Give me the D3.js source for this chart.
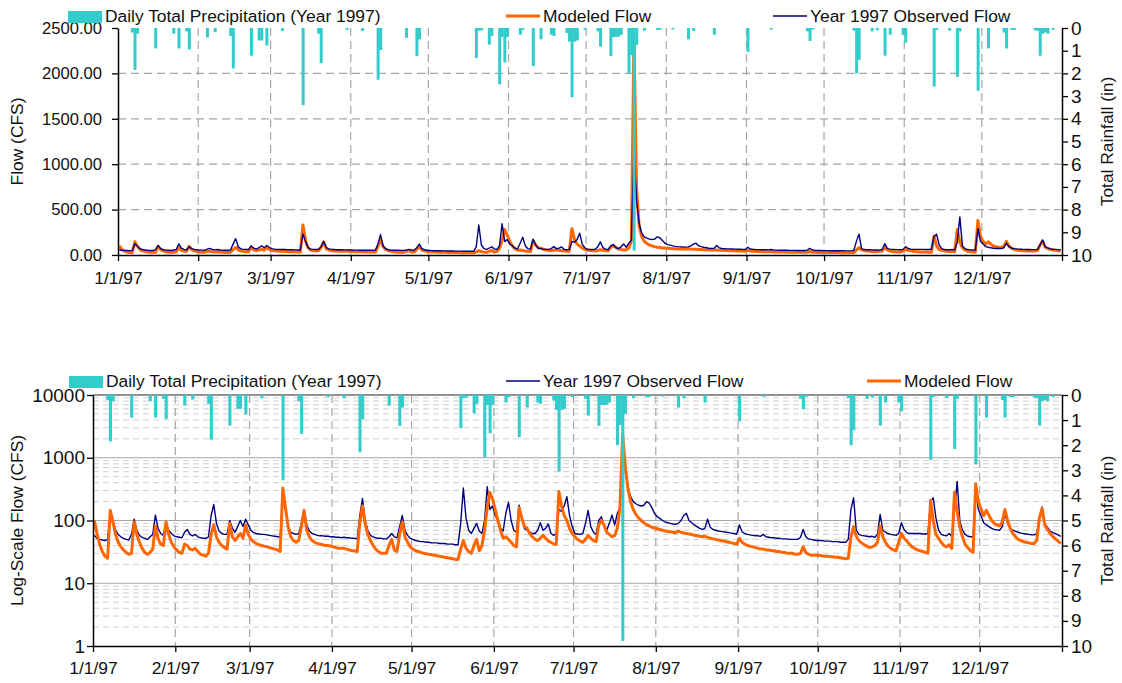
<!DOCTYPE html>
<html>
<head>
<meta charset="utf-8">
<script src="https://cdn.jsdelivr.net/npm/d3@7"></script>
<style>
  body { margin: 0; background: #fff; }
  svg { display: block; }
  text { font-family: "Liberation Sans", Arial, Helvetica, sans-serif; fill: #111; }
</style>
</head>
<body>
<svg id="chart" width="1122" height="683"></svg>
<script>
// ---- data -------------------------------------------------------------
const monthLabels = ["1/1/97","2/1/97","3/1/97","4/1/97","5/1/97","6/1/97",
                     "7/1/97","8/1/97","9/1/97","10/1/97","11/1/97","12/1/97"];
const linearFlowTicks = [0, 500, 1000, 1500, 2000, 2500];
const logFlowTicks = [1, 10, 100, 1000, 10000];
const rainTicks = [0,1,2,3,4,5,6,7,8,9,10];

// daily precipitation, inches (day of year index, 0 = Jan 1)
const rainDay =    [5,6,7,14,21,23,26,27,34,37,43,44,51,54,55,57,63,71,77,78,88,94,100,101,111,115,116,
                    138,139,140,143,144,147,148,149,150,155,156,160,163,167,168,173,174,175,176,177,180,
                    185,186,190,191,192,193,194,197,198,199,200,203,208,209,214,220,222,230,243,252,266,267,268,
                    284,285,286,291,293,296,298,303,304,315,316,321,324,325,332,336,342,343,345,346,
                    354,355,356,357,358,359,361];
const rainInches = [0.2,1.85,0.25,0.9,0.25,0.9,0.15,0.95,0.42,0.18,0.35,1.78,1.22,0.55,0.55,0.77,0.13,3.4,0.25,1.55,0.08,0.13,2.28,0.97,0.43,1.23,0.5,
                    1.32,0.12,0.1,0.73,0.35,2.48,0.4,1.52,0.4,0.3,0.08,1.68,0.5,0.3,0.35,0.22,0.6,3.05,0.6,0.55,0.08,
                    0.15,0.82,1.23,0.4,0.4,0.38,0.3,2.0,1.2,9.8,0.75,0.12,0.08,0.08,0.06,0.5,0.13,0.3,1.05,0.07,0.15,0.57,0.07,
                    0.12,2.0,1.4,0.15,0.1,1.22,0.3,0.3,0.65,2.58,0.08,0.12,2.15,0.15,2.76,0.9,0.2,0.9,0.08,0.08,
                    0.1,0.12,1.22,0.25,0.2,0.25,0.08];

// observed daily flow, CFS
const observedFlow = [
  58,52,50,49,48,50,125,100,70,60,55,52,50,49,60,105,70,58,54,52,50,55,60,122,75,62,58,90,70,62,57,          // Jan
  55,54,53,65,72,60,57,60,55,53,52,52,55,120,180,90,68,62,60,60,100,75,65,80,100,80,105,85,                  // Feb
  70,64,62,61,60,60,59,58,57,56,55,55,230,150,80,65,62,60,62,90,150,85,68,62,60,58,57,57,56,56,55,           // Mar
  55,54,54,53,54,53,53,52,52,51,120,225,100,70,58,55,53,52,52,51,51,55,62,55,53,80,120,70,58,52,             // Apr
  50,48,47,46,46,45,45,44,44,44,43,43,43,42,42,42,41,41,90,330,110,70,62,75,90,68,62,100,345,150,170,        // May
  120,100,75,68,130,195,100,70,65,175,110,75,70,65,62,62,70,92,70,75,88,62,58,62,150,140,170,240,120,80,     // Jun
  62,61,60,62,90,145,80,65,60,100,115,80,70,90,122,85,130,160,1180,600,350,240,200,185,175,170,175,200,190,160,130, // Jul
  115,108,100,95,92,90,88,87,90,100,120,130,100,92,85,80,75,72,75,105,78,72,70,68,67,66,65,64,63,62,61,      // Aug
  85,66,62,60,59,58,57,57,56,60,55,54,53,53,52,52,51,51,51,50,50,50,50,54,72,55,51,50,49,48,                 // Sep
  48,48,47,47,47,46,46,46,45,45,45,50,150,230,70,60,58,57,56,55,56,54,60,125,70,65,62,60,59,58,62,           // Oct
  92,72,64,62,62,62,62,62,61,61,62,200,230,110,70,60,58,57,62,56,140,420,100,70,60,56,55,55,290,150,         // Nov
  120,92,85,80,75,72,71,70,80,130,90,75,70,67,65,63,62,61,60,59,59,62,110,165,90,78,68,64,62,59,56           // Dec
];

// modeled daily flow, CFS
const modeledFlow = [
  100,62,42,32,27,25,145,95,60,45,38,34,31,29,30,95,60,45,36,31,29,31,35,82,52,42,40,95,60,45,38,            // Jan
  34,31,30,42,40,35,34,36,32,29,28,27,30,60,85,55,45,40,37,35,90,55,48,55,62,52,85,60,                       // Feb
  50,46,43,41,40,39,38,37,36,35,34,32,330,160,80,55,48,45,48,80,145,70,55,48,45,43,42,41,40,40,39,           // Mar
  38,37,36,36,36,35,34,33,33,32,90,170,90,60,48,40,35,32,30,30,30,40,50,34,32,60,95,55,45,38,                // Apr
  35,33,32,31,30,29.5,29,28.5,28,27.5,27,26.5,26,25.5,25,24.5,24,24,35,48,36,32,30,40,50,33,40,70,160,280,220, // May
  150,100,70,52,55,50,45,40,38,160,110,80,75,62,55,50,48,52,58,52,47,45,42,42,290,170,120,100,75,62,         // Jun
  55,50,47,45,50,58,52,48,46,85,100,85,65,60,55,58,75,160,2400,730,320,200,150,125,110,100,92,86,82,78,76,   // Jul
  74,72,70,68,67,66,65,64,68,65,63,62,61,60,58,57,56,55,56,54,52,51,50,49,48,47,46,45,44,43,42,              // Aug
  52,45,42,40,39,38,37,36,35,35,34,34,33,33,32,32,31,31,30,30,30,29,29,30,38,31,29,28,28,28,                 // Sep
  28,27.5,27,27,26.5,26.5,26,26,25.5,25,24.5,25,55,80,56,48,44,41,39,37,38,40,45,82,55,45,39,36,34,33,45,    // Oct
  62,52,47,42,38,36,34,33,32,31,30,210,100,60,52,45,40,38,41,36,280,140,80,55,42,37,33,31,380,200,           // Nov
  150,120,145,120,100,90,85,82,95,150,100,75,62,55,50,48,46,45,44,43,43,48,110,155,85,72,62,56,51,47,43      // Dec
];

// ---- drawing ----------------------------------------------------------
const svg = d3.select("#chart");
const C_RAIN = "#33cccc", C_MOD = "#ff6600", C_OBS = "#000080";
const yearStart = new Date(Date.UTC(1997, 0, 1));
const yearEnd = new Date(Date.UTC(1998, 0, 1));
const dayStart = d => d3.utcDay.offset(yearStart, d);
const dayMid = d => d3.utcHour.offset(dayStart(d), 12);
const monthStarts = d3.utcMonth.range(yearStart, d3.utcDay.offset(yearEnd, 1));

function drawPanel(cfg) {
  const g = svg.append("g");
  const x = d3.scaleUtc().domain([yearStart, yearEnd]).range([cfg.left, cfg.right]);
  const yRain = d3.scaleLinear().domain([0, 10]).range([cfg.top, cfg.bottom]);
  const y = cfg.log
    ? d3.scaleLog().domain([1, 10000]).range([cfg.bottom, cfg.top])
    : d3.scaleLinear().domain([0, 2500]).range([cfg.bottom, cfg.top]);

  // gridlines
  const grid = g.append("g");
  if (cfg.log) {
    const minor = [];
    for (let k = 0; k < 4; k++) for (let m = 2; m <= 9; m++) minor.push(m * Math.pow(10, k));
    grid.selectAll("line.minor").data(minor).join("line")
      .attr("x1", cfg.left).attr("x2", cfg.right)
      .attr("y1", d => y(d)).attr("y2", d => y(d))
      .attr("stroke", "#cfcfcf").attr("stroke-width", 1).attr("stroke-dasharray", "6,4");
    grid.selectAll("line.major").data([10, 100, 1000]).join("line")
      .attr("x1", cfg.left).attr("x2", cfg.right)
      .attr("y1", d => y(d)).attr("y2", d => y(d))
      .attr("stroke", "#a6a6a6").attr("stroke-width", 1.2);
    grid.append("line")
      .attr("x1", cfg.left).attr("x2", cfg.right)
      .attr("y1", y(10000)).attr("y2", y(10000))
      .attr("stroke", "#6e6e6e").attr("stroke-width", 1.5);
  } else {
    grid.selectAll("line.h").data([500, 1000, 1500, 2000]).join("line")
      .attr("x1", cfg.left).attr("x2", cfg.right)
      .attr("y1", d => y(d)).attr("y2", d => y(d))
      .attr("stroke", "#a6a6a6").attr("stroke-width", 1.2).attr("stroke-dasharray", "8,5");
  }
  grid.selectAll("line.v").data(monthStarts.slice(1, 12)).join("line")
    .attr("x1", d => x(d)).attr("x2", d => x(d))
    .attr("y1", cfg.top).attr("y2", cfg.bottom)
    .attr("stroke", "#a6a6a6").attr("stroke-width", 1.2).attr("stroke-dasharray", "8,5");

  // flow lines
  const line = d3.line().x((v, i) => x(dayMid(i))).y(v => y(v));
  const series = {
    mod: { data: modeledFlow, color: C_MOD, width: 3 },
    obs: { data: observedFlow, color: C_OBS, width: 1.4 }
  };
  cfg.order.forEach(key => {
    const s = series[key];
    g.append("path").datum(s.data)
      .attr("d", line).attr("fill", "none")
      .attr("stroke", s.color).attr("stroke-width", s.width)
      .attr("stroke-linejoin", "round");
  });

  // precipitation bars hanging from the top
  g.append("g").selectAll("rect").data(rainDay).join("rect")
    .attr("x", d => x(dayStart(d)))
    .attr("width", d => x(dayStart(d + 1)) - x(dayStart(d)) + 0.4)
    .attr("y", cfg.top)
    .attr("height", (d, i) => yRain(rainInches[i]) - cfg.top)
    .attr("fill", C_RAIN);

  // axes
  const axisStyle = size => sel => {
    sel.attr("font-family", null);
    sel.selectAll("path.domain").attr("stroke", "#000").attr("stroke-width", 1.5);
    sel.selectAll(".tick line").attr("stroke", "#000").attr("stroke-width", 1.3);
    sel.selectAll("text").attr("font-size", size).attr("fill", "#111");
  };
  const leftAxis = d3.axisLeft(y).tickValues(cfg.log ? logFlowTicks : linearFlowTicks)
    .tickSize(6).tickSizeOuter(0).tickPadding(cfg.leftPad)
    .tickFormat(cfg.log ? d3.format("d") : d3.format(".2f"));
  g.append("g").attr("transform", `translate(${cfg.left},0)`).call(leftAxis).call(axisStyle(cfg.leftFont));

  const rightAxis = d3.axisRight(yRain).tickValues(rainTicks)
    .tickSize(6).tickSizeOuter(0).tickPadding(3).tickFormat(d3.format("d"));
  g.append("g").attr("transform", `translate(${cfg.right},0)`).call(rightAxis).call(axisStyle(19));

  const bottomAxis = d3.axisBottom(x).tickValues(monthStarts)
    .tickSize(6).tickSizeOuter(0).tickPadding(cfg.xPad)
    .tickFormat((d, i) => i < 12 ? monthLabels[i] : "");
  g.append("g").attr("transform", `translate(0,${cfg.bottom})`).call(bottomAxis).call(axisStyle(17.4));

  // axis titles
  const midY = (cfg.top + cfg.bottom) / 2;
  g.append("text").attr("transform", `translate(${cfg.leftTitleX},${midY}) rotate(-90)`)
    .attr("text-anchor", "middle").attr("font-size", 17.4).text(cfg.leftTitle);
  g.append("text").attr("transform", `translate(${cfg.rightTitleX},${midY}) rotate(-90)`)
    .attr("text-anchor", "middle").attr("font-size", 17.4).text("Total Rainfall (in)");

  // legend
  const lg = g.append("g");
  cfg.legend.forEach(item => {
    if (item.type === "rect") {
      lg.append("rect").attr("x", item.x).attr("y", cfg.legendY - 5)
        .attr("width", 34).attr("height", 12).attr("fill", C_RAIN);
    } else {
      lg.append("line").attr("x1", item.x).attr("x2", item.x + 34)
        .attr("y1", cfg.legendY).attr("y2", cfg.legendY)
        .attr("stroke", item.color).attr("stroke-width", item.width);
    }
    lg.append("text").attr("x", item.x + 37).attr("y", cfg.legendY + 6)
      .attr("font-size", 17.4).text(item.label);
  });
}

drawPanel({
  left: 118, right: 1062, top: 28, bottom: 255, log: false,
  order: ["mod", "obs"], leftFont: 16.6, leftPad: 10, xPad: 11,
  leftTitle: "Flow (CFS)", leftTitleX: 23, rightTitleX: 1113,
  legendY: 16,
  legend: [
    { type: "rect", x: 68, label: "Daily Total Precipitation (Year 1997)" },
    { type: "line", x: 506, color: C_MOD, width: 3, label: "Modeled Flow" },
    { type: "line", x: 773, color: C_OBS, width: 1.4, label: "Year 1997 Observed Flow" }
  ]
});

drawPanel({
  left: 93, right: 1062, top: 395, bottom: 646, log: true,
  order: ["obs", "mod"], leftFont: 19, leftPad: 2, xPad: 10,
  leftTitle: "Log-Scale Flow (CFS)", leftTitleX: 23, rightTitleX: 1113,
  legendY: 381,
  legend: [
    { type: "rect", x: 69, label: "Daily Total Precipitation (Year 1997)" },
    { type: "line", x: 506, color: C_OBS, width: 1.4, label: "Year 1997 Observed Flow" },
    { type: "line", x: 867, color: C_MOD, width: 3, label: "Modeled Flow" }
  ]
});
</script>
</body>
</html>
